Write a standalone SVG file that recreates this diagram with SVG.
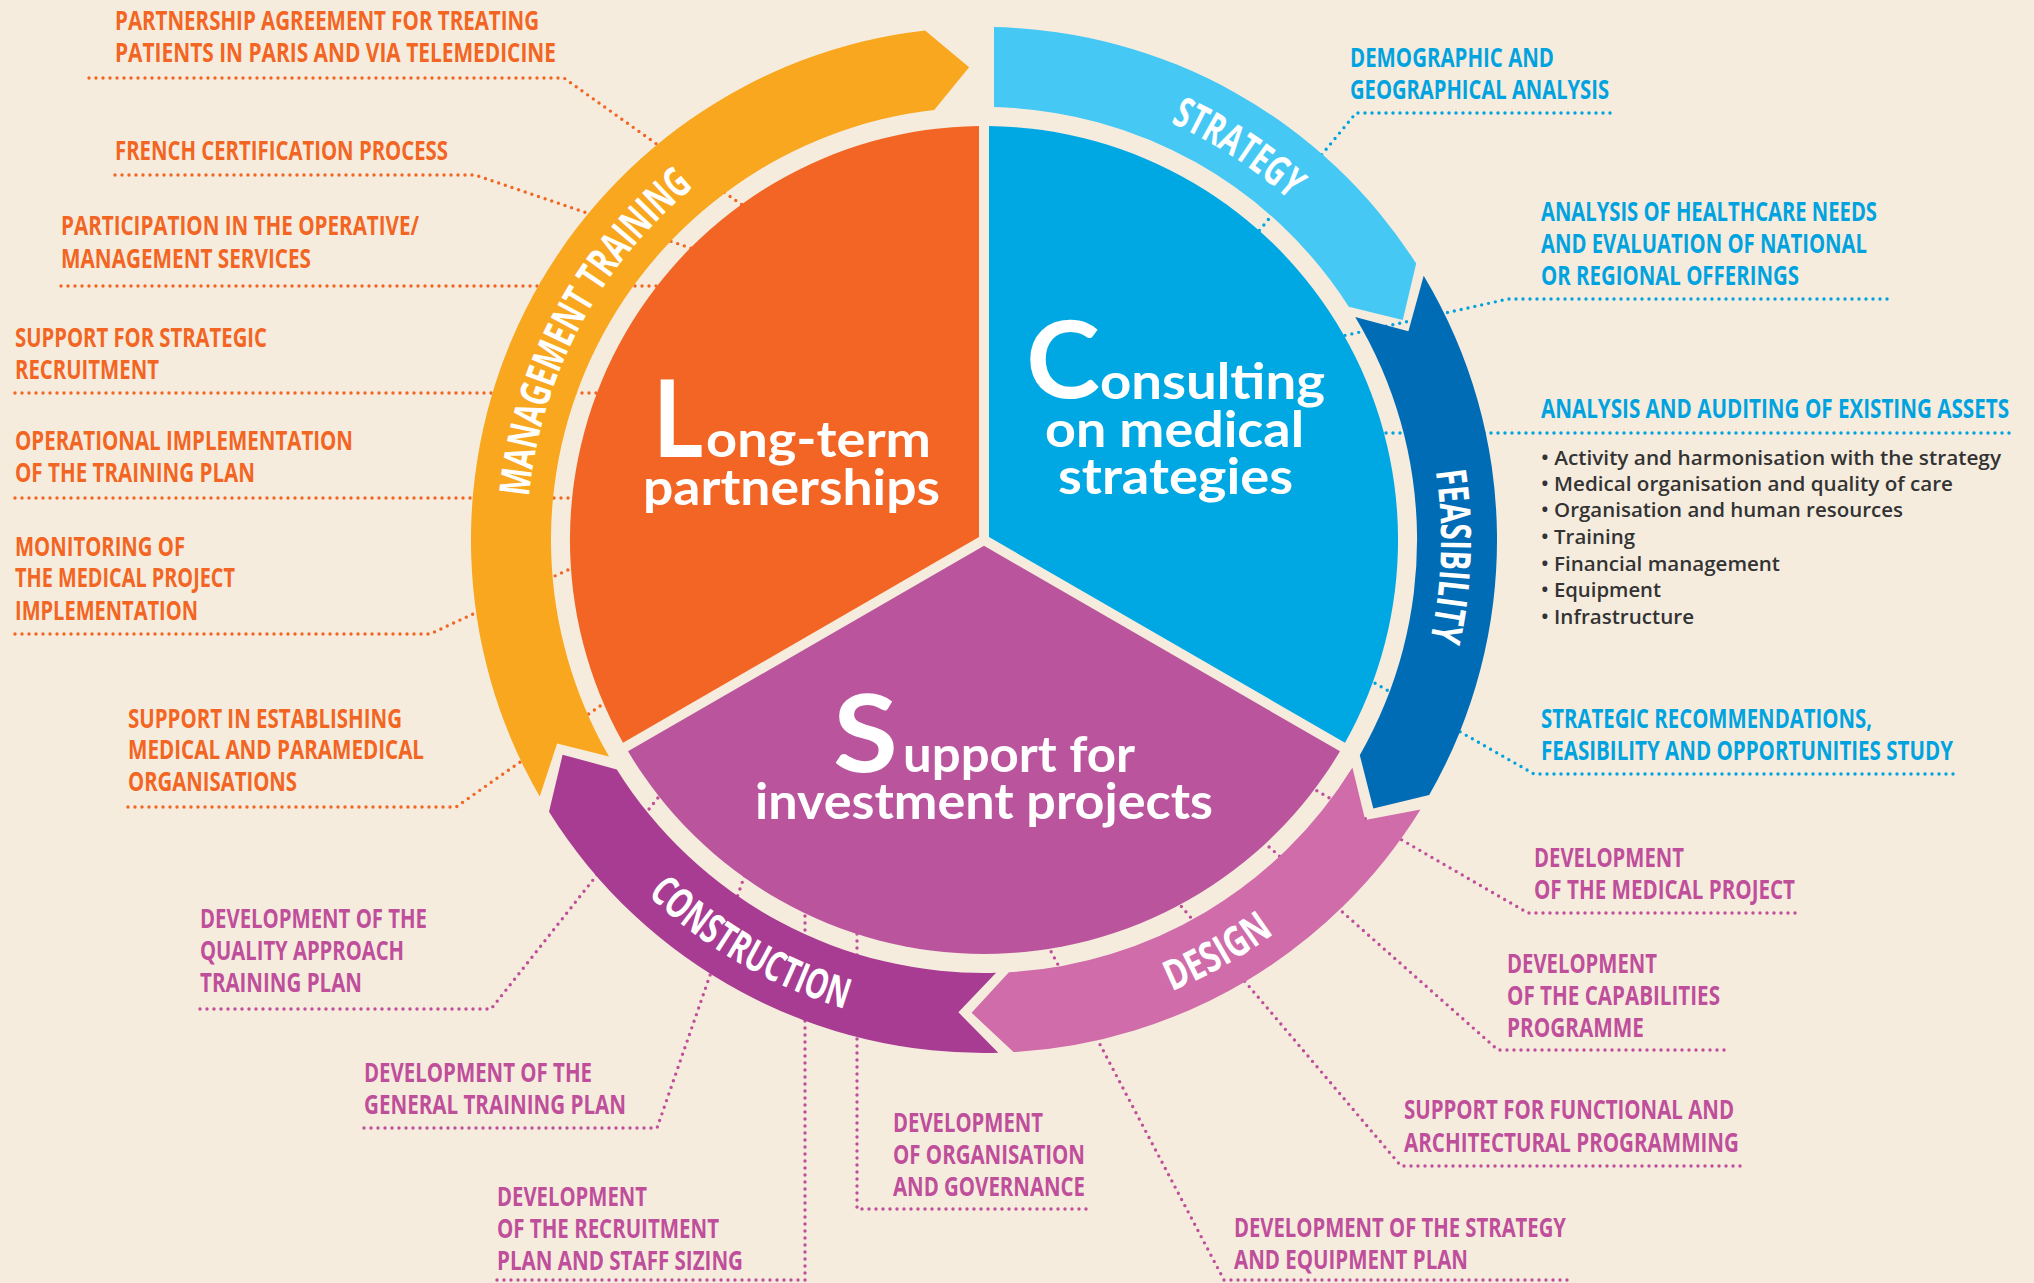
<svg xmlns="http://www.w3.org/2000/svg" width="2034" height="1283" viewBox="0 0 2034 1283">
<style>
.lbl{font-family:"Open Sans","Liberation Sans",sans-serif;font-weight:700;font-size:26px}
.or{fill:#F26522}.bl{fill:#00A3DF}.pk{fill:#BF4E9B}
.bul{font-family:"Open Sans","Liberation Sans",sans-serif;font-weight:600;font-size:20px;fill:#333333}
.lk{fill:none;stroke-width:3.4;stroke-linecap:round;stroke-linejoin:round;stroke-dasharray:0 7}
.lk.or{stroke:#F26522}.lk.bl{stroke:#00A3DF}.lk.pk{stroke:#BF4E9B}
.ring{font-family:"Open Sans","Liberation Sans",sans-serif;font-weight:700;font-size:42px;fill:#FFFFFF}
.ttl{font-family:"Lato","Open Sans",sans-serif;font-weight:700;fill:#FFFFFF;font-size:49px}
.big{font-size:108px}
</style>
<defs>
<path id="pMT" d="M 537.0 635.0 A 457 457 0 0 1 812.8 116.3"/>
<path id="pST" d="M 928.3 86.4 A 457 457 0 0 1 1421.0 406.4"/>
<path id="pFE" d="M 1344.1 258.6 A 457 457 0 0 1 1323.6 845.8"/>
<path id="pDE" d="M 899.1 1021.6 A 489 489 0 0 0 1440.5 715.2"/>
<path id="pCO" d="M 524.5 707.2 A 489 489 0 0 0 1068.9 1021.6"/>
</defs>
<rect x="0" y="0" width="2034" height="1283" fill="#F6ECDE"/>

<g id="connectors">
<path class="lk or" d="M 89 78 H 564 L 780 232"/>
<path class="lk or" d="M 115 175 H 475 L 720 258"/>
<path class="lk or" d="M 61 286 H 680"/>
<path class="lk or" d="M 15 393 H 620"/>
<path class="lk or" d="M 15 498 H 600"/>
<path class="lk or" d="M 15 634 H 430 L 600 555"/>
<path class="lk or" d="M 128 807 H 456 L 640 678"/>
<path class="lk bl" d="M 1610 113 H 1356 L 1240 254"/>
<path class="lk bl" d="M 1887 299 H 1508 L 1320 341"/>
<path class="lk bl" d="M 2009 433 H 1370"/>
<path class="lk bl" d="M 1953 774 H 1534 L 1350 669"/>
<path class="lk pk" d="M 1795 913 H 1528 L 1300 781"/>
<path class="lk pk" d="M 1724 1050 H 1498 L 1250 830"/>
<path class="lk pk" d="M 1740 1166 H 1401 L 1170 893"/>
<path class="lk pk" d="M 1567 1280 H 1224 L 1045 940"/>
<path class="lk pk" d="M 1086 1209 H 857 V 880"/>
<path class="lk pk" d="M 497 1280 H 805 V 880"/>
<path class="lk pk" d="M 364 1128 H 657 L 750 860"/>
<path class="lk pk" d="M 200 1009 H 491 L 672 780"/>
</g>

<g id="ring">
<g id="ring-strategy">
<path d="M 994 27.1 A 513 513 0 0 1 1416.2 263.6 L 1402.8 320.1 L 1348.8 306.7 A 433 433 0 0 0 994 107.1 Z" fill="#46C8F5"/>
<text class="ring"><textPath href="#pST" startOffset="50%" text-anchor="middle" textLength="142" lengthAdjust="spacingAndGlyphs">STRATEGY</textPath></text>
</g>
<g id="ring-feasibility">
<path d="M 1423.7 275.8 A 513 513 0 0 1 1429.2 795.0 L 1373.3 808.6 L 1359.8 755.2 A 433 433 0 0 0 1355.2 317.0 L 1408.4 331.2 Z" fill="#006CB5"/>
<text class="ring"><textPath href="#pFE" startOffset="50%" text-anchor="middle" textLength="170" lengthAdjust="spacingAndGlyphs">FEASIBILITY</textPath></text>
</g>
<g id="ring-design">
<path d="M 1420.5 809.6 A 513 513 0 0 1 1013.5 1052.1 L 971.6 1012.8 L 1008.9 972.3 A 433 433 0 0 0 1352.4 767.5 L 1365.2 820.0 Z" fill="#CF6CA9"/>
<text class="ring"><textPath href="#pDE" startOffset="50%" text-anchor="middle" textLength="118" lengthAdjust="spacingAndGlyphs">DESIGN</textPath></text>
</g>
<g id="ring-construction">
<path d="M 998.3 1052.8 A 513 513 0 0 1 549.0 811.8 L 562.6 754.7 L 616.8 769.4 A 433 433 0 0 0 996.1 972.8 L 958.4 1012.3 Z" fill="#A73C92"/>
<text class="ring"><textPath href="#pCO" startOffset="50%" text-anchor="middle" textLength="230" lengthAdjust="spacingAndGlyphs">CONSTRUCTION</textPath></text>
</g>
<g id="ring-management">
<path d="M 539.7 796.5 A 513 513 0 0 1 925.1 30.4 L 969.1 67.2 L 934.2 109.9 A 433 433 0 0 0 609.0 756.5 L 557.1 743.6 Z" fill="#F8A71E"/>
<text class="ring"><textPath href="#pMT" startOffset="50%" text-anchor="middle" textLength="360" lengthAdjust="spacingAndGlyphs">MANAGEMENT TRAINING</textPath></text>
</g>
</g>

<g id="pie-partnerships">
<path d="M 979.0 537.1 L 623.0 742.7 A 414 414 0 0 1 979.0 126.0 Z" fill="#F26524"/>
<text class="ttl"><tspan class="big" x="653" y="457" textLength="50" lengthAdjust="spacingAndGlyphs">L</tspan><tspan x="706" y="457" textLength="225" lengthAdjust="spacingAndGlyphs">ong-term</tspan><tspan x="643" y="505" textLength="297" lengthAdjust="spacingAndGlyphs">partnerships</tspan></text>
</g>
<g id="pie-consulting">
<path d="M 989.0 537.1 L 989.0 126.0 A 414 414 0 0 1 1345.0 742.7 Z" fill="#00A8E3"/>
<text class="ttl"><tspan class="big" x="1026" y="398" textLength="74" lengthAdjust="spacingAndGlyphs">C</tspan><tspan x="1100" y="399" textLength="225" lengthAdjust="spacingAndGlyphs">onsulting</tspan><tspan x="1045" y="447" textLength="259" lengthAdjust="spacingAndGlyphs">on medical</tspan><tspan x="1058" y="494" textLength="235" lengthAdjust="spacingAndGlyphs">strategies</tspan></text>
</g>
<g id="pie-support">
<path d="M 984 545.8 L 1340.0 751.3 A 414 414 0 0 1 628.0 751.3 Z" fill="#BA559D"/>
<text class="ttl"><tspan class="big" x="833" y="772" textLength="65" lengthAdjust="spacingAndGlyphs">S</tspan><tspan x="903" y="772" textLength="232" lengthAdjust="spacingAndGlyphs">upport for</tspan><tspan x="755" y="819" textLength="458" lengthAdjust="spacingAndGlyphs">investment projects</tspan></text>
</g>

<g id="label-partnership-agreement" class="lbl or">
<text x="115" y="30" textLength="424" lengthAdjust="spacingAndGlyphs">PARTNERSHIP AGREEMENT FOR TREATING</text>
<text x="115" y="62" textLength="441" lengthAdjust="spacingAndGlyphs">PATIENTS IN PARIS AND VIA TELEMEDICINE</text>
</g>
<g id="label-french-certification" class="lbl or">
<text x="115" y="160" textLength="333" lengthAdjust="spacingAndGlyphs">FRENCH CERTIFICATION PROCESS</text>
</g>
<g id="label-participation" class="lbl or">
<text x="61" y="235" textLength="358" lengthAdjust="spacingAndGlyphs">PARTICIPATION IN THE OPERATIVE/</text>
<text x="61" y="268" textLength="250" lengthAdjust="spacingAndGlyphs">MANAGEMENT SERVICES</text>
</g>
<g id="label-strategic-recruitment" class="lbl or">
<text x="15" y="347" textLength="252" lengthAdjust="spacingAndGlyphs">SUPPORT FOR STRATEGIC</text>
<text x="15" y="379" textLength="144" lengthAdjust="spacingAndGlyphs">RECRUITMENT</text>
</g>
<g id="label-operational-implementation" class="lbl or">
<text x="15" y="450" textLength="338" lengthAdjust="spacingAndGlyphs">OPERATIONAL IMPLEMENTATION</text>
<text x="15" y="482" textLength="240" lengthAdjust="spacingAndGlyphs">OF THE TRAINING PLAN</text>
</g>
<g id="label-monitoring" class="lbl or">
<text x="15" y="556" textLength="170" lengthAdjust="spacingAndGlyphs">MONITORING OF</text>
<text x="15" y="587" textLength="220" lengthAdjust="spacingAndGlyphs">THE MEDICAL PROJECT</text>
<text x="15" y="620" textLength="183" lengthAdjust="spacingAndGlyphs">IMPLEMENTATION</text>
</g>
<g id="label-establishing" class="lbl or">
<text x="128" y="728" textLength="274" lengthAdjust="spacingAndGlyphs">SUPPORT IN ESTABLISHING</text>
<text x="128" y="759" textLength="296" lengthAdjust="spacingAndGlyphs">MEDICAL AND PARAMEDICAL</text>
<text x="128" y="791" textLength="169" lengthAdjust="spacingAndGlyphs">ORGANISATIONS</text>
</g>

<g id="label-demographic" class="lbl bl">
<text x="1350" y="67" textLength="204" lengthAdjust="spacingAndGlyphs">DEMOGRAPHIC AND</text>
<text x="1350" y="99" textLength="259" lengthAdjust="spacingAndGlyphs">GEOGRAPHICAL ANALYSIS</text>
</g>
<g id="label-healthcare-needs" class="lbl bl">
<text x="1541" y="221" textLength="336" lengthAdjust="spacingAndGlyphs">ANALYSIS OF HEALTHCARE NEEDS</text>
<text x="1541" y="253" textLength="326" lengthAdjust="spacingAndGlyphs">AND EVALUATION OF NATIONAL</text>
<text x="1541" y="285" textLength="258" lengthAdjust="spacingAndGlyphs">OR REGIONAL OFFERINGS</text>
</g>
<g id="label-auditing">
<text class="lbl bl" x="1541" y="418" textLength="468" lengthAdjust="spacingAndGlyphs">ANALYSIS AND AUDITING OF EXISTING ASSETS</text>
<text class="bul" x="1541" y="465" textLength="460" lengthAdjust="spacingAndGlyphs">• Activity and harmonisation with the strategy</text>
<text class="bul" x="1541" y="491" textLength="412" lengthAdjust="spacingAndGlyphs">• Medical organisation and quality of care</text>
<text class="bul" x="1541" y="517" textLength="362" lengthAdjust="spacingAndGlyphs">• Organisation and human resources</text>
<text class="bul" x="1541" y="544" textLength="94" lengthAdjust="spacingAndGlyphs">• Training</text>
<text class="bul" x="1541" y="571" textLength="239" lengthAdjust="spacingAndGlyphs">• Financial management</text>
<text class="bul" x="1541" y="597" textLength="120" lengthAdjust="spacingAndGlyphs">• Equipment</text>
<text class="bul" x="1541" y="624" textLength="153" lengthAdjust="spacingAndGlyphs">• Infrastructure</text>
</g>
<g id="label-recommendations" class="lbl bl">
<text x="1541" y="728" textLength="331" lengthAdjust="spacingAndGlyphs">STRATEGIC RECOMMENDATIONS,</text>
<text x="1541" y="760" textLength="412" lengthAdjust="spacingAndGlyphs">FEASIBILITY AND OPPORTUNITIES STUDY</text>
</g>

<g id="label-medical-project" class="lbl pk">
<text x="1534" y="867" textLength="150" lengthAdjust="spacingAndGlyphs">DEVELOPMENT</text>
<text x="1534" y="899" textLength="261" lengthAdjust="spacingAndGlyphs">OF THE MEDICAL PROJECT</text>
</g>
<g id="label-capabilities" class="lbl pk">
<text x="1507" y="973" textLength="150" lengthAdjust="spacingAndGlyphs">DEVELOPMENT</text>
<text x="1507" y="1005" textLength="213" lengthAdjust="spacingAndGlyphs">OF THE CAPABILITIES</text>
<text x="1507" y="1037" textLength="137" lengthAdjust="spacingAndGlyphs">PROGRAMME</text>
</g>
<g id="label-functional" class="lbl pk">
<text x="1404" y="1119" textLength="330" lengthAdjust="spacingAndGlyphs">SUPPORT FOR FUNCTIONAL AND</text>
<text x="1404" y="1152" textLength="335" lengthAdjust="spacingAndGlyphs">ARCHITECTURAL PROGRAMMING</text>
</g>
<g id="label-equipment-plan" class="lbl pk">
<text x="1234" y="1237" textLength="332" lengthAdjust="spacingAndGlyphs">DEVELOPMENT OF THE STRATEGY</text>
<text x="1234" y="1269" textLength="234" lengthAdjust="spacingAndGlyphs">AND EQUIPMENT PLAN</text>
</g>
<g id="label-governance" class="lbl pk">
<text x="893" y="1132" textLength="150" lengthAdjust="spacingAndGlyphs">DEVELOPMENT</text>
<text x="893" y="1164" textLength="192" lengthAdjust="spacingAndGlyphs">OF ORGANISATION</text>
<text x="893" y="1196" textLength="192" lengthAdjust="spacingAndGlyphs">AND GOVERNANCE</text>
</g>
<g id="label-recruitment-plan" class="lbl pk">
<text x="497" y="1206" textLength="150" lengthAdjust="spacingAndGlyphs">DEVELOPMENT</text>
<text x="497" y="1238" textLength="222" lengthAdjust="spacingAndGlyphs">OF THE RECRUITMENT</text>
<text x="497" y="1270" textLength="246" lengthAdjust="spacingAndGlyphs">PLAN AND STAFF SIZING</text>
</g>
<g id="label-general-training" class="lbl pk">
<text x="364" y="1082" textLength="228" lengthAdjust="spacingAndGlyphs">DEVELOPMENT OF THE</text>
<text x="364" y="1114" textLength="262" lengthAdjust="spacingAndGlyphs">GENERAL TRAINING PLAN</text>
</g>
<g id="label-quality-approach" class="lbl pk">
<text x="200" y="928" textLength="227" lengthAdjust="spacingAndGlyphs">DEVELOPMENT OF THE</text>
<text x="200" y="960" textLength="204" lengthAdjust="spacingAndGlyphs">QUALITY APPROACH</text>
<text x="200" y="992" textLength="162" lengthAdjust="spacingAndGlyphs">TRAINING PLAN</text>
</g>
</svg>
